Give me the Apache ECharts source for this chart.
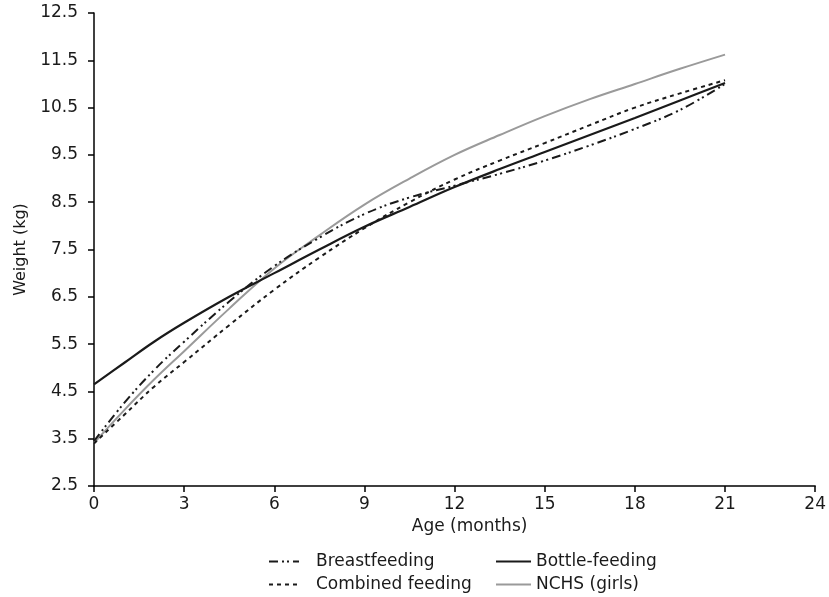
<!DOCTYPE html>
<html>
<head>
<meta charset="utf-8">
<script src="https://cdn.jsdelivr.net/npm/echarts@6/dist/echarts.min.js"></script>
<style>
  html, body { margin: 0; padding: 0; background: #fff; }
  #chart { width: 829px; height: 597px; }
</style>
</head>
<body>
<div id="chart"></div>
<script>
// age in months
const months = [0, 1, 2, 3, 4.5, 6, 7.5, 9, 10.5, 12, 13.5, 15, 16.5, 18, 19.5, 21];

// weight in kg
const breastfeeding = [3.45, 4.25, 4.95, 5.55, 6.4, 7.15, 7.75, 8.25, 8.6, 8.85, 9.1, 9.38, 9.7, 10.05, 10.45, 11.0];
const bottleFeeding = [4.65, 5.1, 5.55, 5.95, 6.5, 7.0, 7.5, 7.98, 8.4, 8.82, 9.2, 9.56, 9.92, 10.28, 10.65, 11.02];
const combinedFeeding = [3.4, 4.0, 4.6, 5.12, 5.9, 6.65, 7.33, 7.95, 8.5, 8.98, 9.38, 9.75, 10.13, 10.5, 10.8, 11.08];
const nchsGirls = [3.41, 4.1, 4.75, 5.35, 6.25, 7.1, 7.8, 8.45, 9.0, 9.5, 9.92, 10.32, 10.68, 11.0, 11.32, 11.62];

const yTicks = [2.5, 3.5, 4.5, 5.5, 6.5, 7.5, 8.5, 9.5, 10.5, 11.5, 12.5];

const pairs = (ys) => months.map((m, i) => [m, ys[i]]);

const chart = echarts.init(document.getElementById('chart'));
const font = 'DejaVu Sans';
const textColor = '#1a1a1a';

const legendBase = {
  orient: 'vertical',
  top: 548,
  height: 50,
  itemHeight: 14,
  itemGap: 6,
  itemStyle: { opacity: 0, borderWidth: 0 },
  lineStyle: { opacity: 1 }
};

const option = {
  animation: false,
  textStyle: { fontFamily: font },
  grid: { left: 94, right: 10, top: 13, bottom: 111 },
  xAxis: {
    type: 'value',
    min: 0,
    max: 24,
    interval: 3,
    name: 'Age (months)',
    nameLocation: 'middle',
    nameGap: 32,
    nameTextStyle: { fontFamily: font, fontSize: 17, color: textColor, padding: [0, 0, 0, 30] },
    axisLine: { lineStyle: { color: '#000', width: 1.5 } },
    axisTick: { length: 6, lineStyle: { color: '#000', width: 1.5 } },
    axisLabel: { fontFamily: font, fontSize: 17, color: textColor, margin: 10 },
    splitLine: { show: false }
  },
  yAxis: {
    type: 'value',
    min: 2.5,
    max: 12.5,
    name: 'Weight (kg)',
    nameLocation: 'middle',
    nameGap: 64,
    nameTextStyle: { fontFamily: font, fontSize: 16, color: textColor },
    axisLine: { show: true, lineStyle: { color: '#000', width: 1.5 } },
    axisTick: { show: true, length: 6, customValues: yTicks, lineStyle: { color: '#000', width: 1.5 } },
    axisLabel: {
      fontFamily: font, fontSize: 17, color: textColor, margin: 16,
      customValues: yTicks,
      formatter: (v) => v.toFixed(1)
    },
    splitLine: { show: false }
  },
  legend: [
    Object.assign({}, legendBase, {
      left: 263,
      itemWidth: 30,
      textStyle: { fontFamily: font, fontSize: 17, color: textColor, padding: [0, 0, 0, 12] },
      data: ['Breastfeeding', 'Combined feeding']
    }),
    Object.assign({}, legendBase, {
      left: 490,
      itemWidth: 35,
      textStyle: { fontFamily: font, fontSize: 17, color: textColor },
      data: ['Bottle-feeding', 'NCHS (girls)']
    })
  ],
  series: [
    {
      name: 'NCHS (girls)',
      type: 'line',
      data: pairs(nchsGirls),
      smooth: 0.4,
      symbol: 'none',
      lineStyle: { color: '#9a9a9a', width: 2 },
      itemStyle: { color: '#9a9a9a' }
    },
    {
      name: 'Bottle-feeding',
      type: 'line',
      data: pairs(bottleFeeding),
      smooth: 0.4,
      symbol: 'none',
      lineStyle: { color: '#1a1a1a', width: 2.2 },
      itemStyle: { color: '#1a1a1a' }
    },
    {
      name: 'Combined feeding',
      type: 'line',
      data: pairs(combinedFeeding),
      smooth: 0.4,
      symbol: 'none',
      lineStyle: { color: '#1a1a1a', width: 2, type: [4, 4] },
      itemStyle: { color: '#1a1a1a' }
    },
    {
      name: 'Breastfeeding',
      type: 'line',
      data: pairs(breastfeeding),
      smooth: 0.4,
      symbol: 'none',
      lineStyle: { color: '#1a1a1a', width: 2, type: [9, 4, 2, 3, 2, 4] },
      itemStyle: { color: '#1a1a1a' }
    }
  ]
};

chart.setOption(option);
</script>
</body>
</html>
